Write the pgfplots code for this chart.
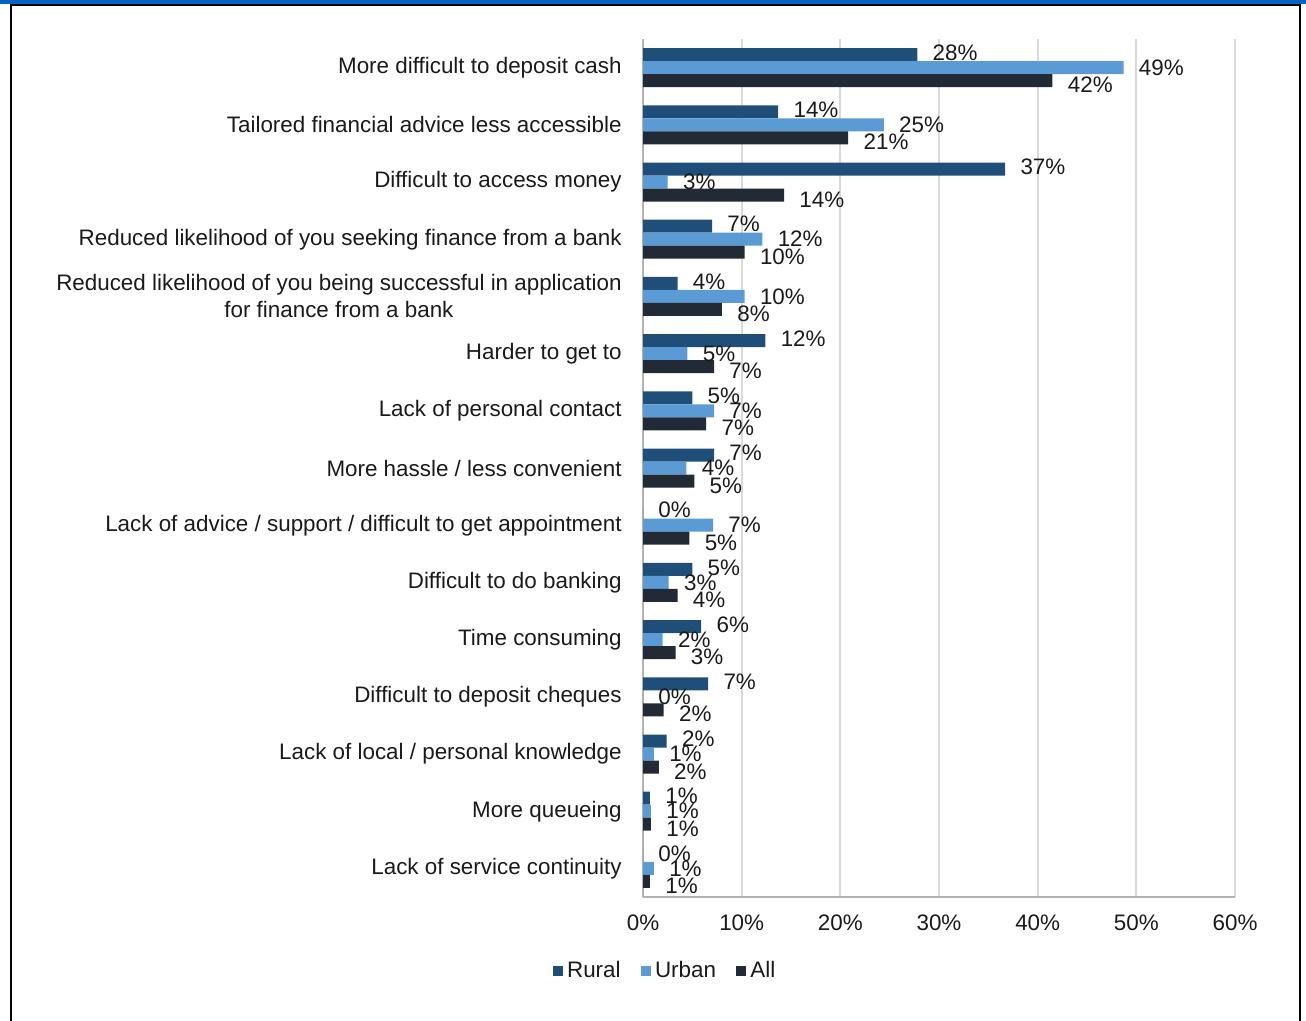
\documentclass[border=0pt]{standalone}
\usepackage{fontspec}
\setmainfont{Liberation Sans}
\usepackage{pgfplots}
\pgfplotsset{compat=1.18}
\definecolor{rural}{HTML}{1F4E79}
\definecolor{urban}{HTML}{5B9BD5}
\definecolor{allc}{HTML}{222A35}
\definecolor{gridc}{HTML}{D9D9D9}
\definecolor{band}{HTML}{0563C1}
\definecolor{txt}{HTML}{1A1A1A}

\begin{document}
\begin{tikzpicture}
% frame, 1px = 0.5pt
\begin{scope}[x=0.5pt,y=-0.5pt]
\path[use as bounding box] (0,0) rectangle (1306,1021);
\fill[band] (0,0) rectangle (1306,4);
\draw[black, line width=1.2pt] (11,1030) -- (11,5) -- (1300,5) -- (1300,1030);
\end{scope}
\begin{axis}[
    at={(321.5pt,-448.5pt)}, anchor=south west,
    width=296pt, height=429pt, scale only axis,
    xbar=0pt, bar width=6.5pt,
    xmin=0, xmax=60,
    xtick={0,10,...,60},
    xticklabels={0\%,10\%,20\%,30\%,40\%,50\%,60\%},
    ymin=-0.5, ymax=14.5, y dir=reverse,
    ytick={0,...,14},
    yticklabels={
      More difficult to deposit cash,
      Tailored financial advice less accessible,
      Difficult to access money,
      Reduced likelihood of you seeking finance from a bank,
      {Reduced likelihood of you being successful in application\\for finance from a bank},
      Harder to get to,
      Lack of personal contact,
      More hassle / less convenient,
      Lack of advice / support / difficult to get appointment,
      Difficult to do banking,
      Time consuming,
      Difficult to deposit cheques,
      Lack of local / personal knowledge,
      More queueing,
      Lack of service continuity},
    xmajorgrids, grid style={gridc, line width=1pt},
    axis x line*=bottom, axis y line*=left,
    axis line style={draw=black!30, line width=1pt, -},
    major tick length=0pt,
    tick label style={font=\fontsize{11.2}{13.5}\selectfont, text=txt, inner sep=0pt},
    yticklabel style={align=center, anchor=east, xshift=-10.5pt},
    xticklabel style={anchor=north, yshift=-8.5pt},
    point meta=explicit symbolic,
    nodes near coords={\pgfplotspointmeta},
    every node near coord/.append style={font=\fontsize{11.2}{13.5}\selectfont, text=txt, anchor=west, inner sep=0pt, xshift=7.5pt},
    legend style={at={(0.0389,-0.0862)}, anchor=center, draw=none, fill=none,
      legend columns=3, font=\fontsize{11.2}{13.5}\selectfont, text=txt,
      /tikz/every even column/.append style={column sep=8pt}},
    legend image code/.code={\fill[#1] (0pt,-2.6pt) rectangle (5.2pt,2.6pt);},
]
\addplot[fill=rural, draw=none, bar shift=6.5pt, every node near coord/.append style={yshift=1pt}] coordinates {
  (27.8,0) [28\%] (13.7,1) [14\%] (36.7,2) [37\%] (7.0,3) [7\%] (3.5,4) [4\%]
  (12.4,5) [12\%] (5.0,6) [5\%] (7.2,7) [7\%] (0,8) [0\%] (5.0,9) [5\%]
  (5.9,10) [6\%] (6.6,11) [7\%] (2.4,12) [2\%] (0.7,13) [1\%] (0,14) [0\%]};
\addplot[fill=urban, draw=none, bar shift=0pt] coordinates {
  (48.7,0) [49\%] (24.4,1) [25\%] (2.5,2) [3\%] (12.1,3) [12\%] (10.3,4) [10\%]
  (4.5,5) [5\%] (7.2,6) [7\%] (4.4,7) [4\%] (7.1,8) [7\%] (2.6,9) [3\%]
  (2.0,10) [2\%] (0,11) [0\%] (1.1,12) [1\%] (0.8,13) [1\%] (1.1,14) [1\%]};
\addplot[fill=allc, draw=none, bar shift=-6.5pt, every node near coord/.append style={yshift=-2.2pt}] coordinates {
  (41.5,0) [42\%] (20.8,1) [21\%] (14.3,2) [14\%] (10.3,3) [10\%] (8.0,4) [8\%]
  (7.2,5) [7\%] (6.4,6) [7\%] (5.2,7) [5\%] (4.7,8) [5\%] (3.5,9) [4\%]
  (3.3,10) [3\%] (2.1,11) [2\%] (1.6,12) [2\%] (0.8,13) [1\%] (0.7,14) [1\%]};
\legend{Rural,Urban,All}
\end{axis}
\end{tikzpicture}
\end{document}
